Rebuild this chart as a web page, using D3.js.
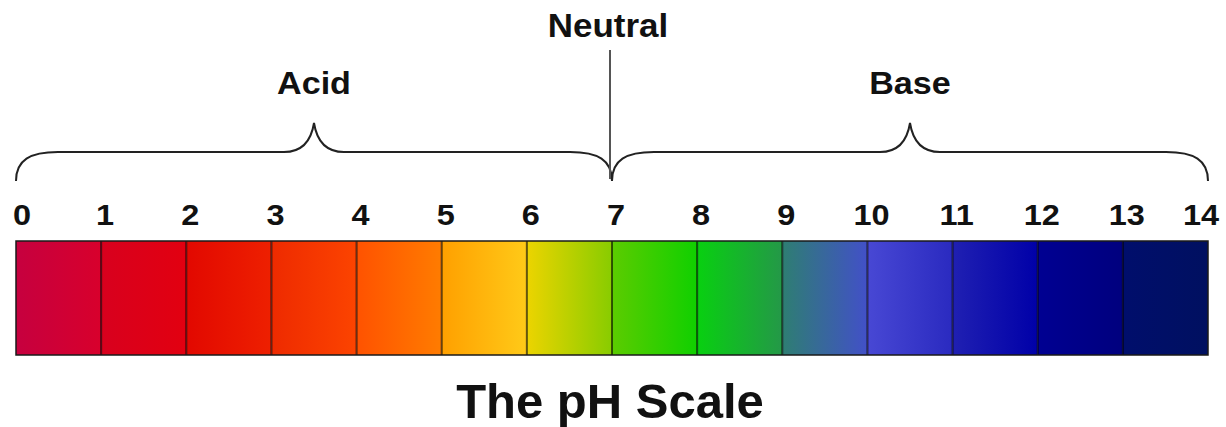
<!DOCTYPE html>
<html>
<head>
<meta charset="utf-8">
<script src="https://cdn.jsdelivr.net/npm/d3@7"></script>
<style>
  body { margin: 0; background: #fff; }
  text { font-family: "Liberation Sans", Arial, sans-serif; font-weight: bold; fill: #111; }
</style>
</head>
<body>
<div id="chart"></div>
<script>
// pH values at the cell boundaries
const phValues = d3.range(0, 15);
const tickLabels = phValues.map(String);

// Colour of each pH cell, as [left, right] of its gradient
const cellColors = [
    ["#c6003f", "#d8002c"],
    ["#d8001e", "#e20010"],
    ["#e20800", "#ee2000"],
    ["#ee2a00", "#fc4400"],
    ["#ff5200", "#ff7c00"],
    ["#ffa000", "#ffca18"],
    ["#ecd400", "#88cc00"],
    ["#5ccc00", "#10d000"],
    ["#08d010", "#249848"],
    ["#2e7e72", "#4250c8"],
    ["#4848d4", "#2a2ac0"],
    ["#2020b2", "#0000a8"],
    ["#000092", "#00007e"],
    ["#000e6c", "#001060"]
];

// Regions above the bar
const regions = [
    {name: "Acid", from: 0, to: 7},
    {name: "Base", from: 7, to: 14}
];
const neutralValue = 7;

const width = 1226, height = 427;

const svg = d3.select("#chart").append("svg")
    .attr("width", width)
    .attr("height", height);

const x = d3.scaleLinear()
    .domain([0, 14])
    .range([16, 1208]);

const barTop = 241, barBottom = 355;

// Gradients for each cell
const defs = svg.append("defs");
cellColors.forEach((c, i) => {
    const g = defs.append("linearGradient")
        .attr("id", "cell" + i)
        .attr("x1", "0%").attr("x2", "100%");
    g.append("stop").attr("offset", "0%").attr("stop-color", c[0]);
    g.append("stop").attr("offset", "100%").attr("stop-color", c[1]);
});

// Draw the cells
svg.selectAll(".cell")
    .data(cellColors)
    .enter()
    .append("rect")
    .attr("x", (d, i) => x(i))
    .attr("y", barTop)
    .attr("width", (d, i) => x(i + 1) - x(i))
    .attr("height", barBottom - barTop)
    .attr("fill", (d, i) => `url(#cell${i})`);

// Dividers between cells
svg.selectAll(".divider")
    .data(phValues.slice(1, -1))
    .enter()
    .append("line")
    .attr("x1", d => x(d))
    .attr("x2", d => x(d))
    .attr("y1", barTop)
    .attr("y2", barBottom)
    .attr("stroke", "#000")
    .attr("stroke-opacity", 0.6)
    .attr("stroke-width", 2);

// Outer border
svg.append("rect")
    .attr("x", x(0))
    .attr("y", barTop)
    .attr("width", x(14) - x(0))
    .attr("height", barBottom - barTop)
    .attr("fill", "none")
    .attr("stroke", "#1a1a1a")
    .attr("stroke-width", 1.5);

// Tick labels over the boundaries
svg.selectAll(".tick-label")
    .data(phValues)
    .enter()
    .append("text")
    .attr("transform", d => {
        const px = Math.max(22, Math.min(1201, x(d) + 4));
        return `translate(${px},225) scale(1.12,1)`;
    })
    .attr("text-anchor", "middle")
    .style("font-size", "29px")
    .text((d, i) => tickLabels[i]);

// Braces for acid and base
const braceY = 152, braceEnd = 181, tipY = 123;
function brace(x0, x1) {
    const mid = (x0 + x1) / 2;
    return `M${x0},${braceEnd} C${x0},${braceY + 8} ${x0 + 14},${braceY} ${x0 + 42},${braceY}` +
        ` L${mid - 30},${braceY} C${mid - 12},${braceY} ${mid - 3},${braceY - 10} ${mid},${tipY}` +
        ` C${mid + 3},${braceY - 10} ${mid + 12},${braceY} ${mid + 30},${braceY}` +
        ` L${x1 - 42},${braceY} C${x1 - 14},${braceY} ${x1},${braceY + 8} ${x1},${braceEnd}`;
}

regions.forEach(r => {
    svg.append("path")
        .attr("d", brace(x(r.from), x(r.to)))
        .attr("fill", "none")
        .attr("stroke", "#222")
        .attr("stroke-width", 2);

    svg.append("text")
        .attr("transform", `translate(${(x(r.from) + x(r.to)) / 2},94) scale(1.1,1)`)
        .attr("text-anchor", "middle")
        .style("font-size", "31px")
        .text(r.name);
});

// Neutral marker
svg.append("line")
    .attr("x1", x(neutralValue) - 2)
    .attr("x2", x(neutralValue) - 2)
    .attr("y1", 50)
    .attr("y2", braceEnd - 2)
    .attr("stroke", "#555")
    .attr("stroke-width", 2);

svg.append("text")
    .attr("transform", `translate(${x(neutralValue) - 4},37) scale(1.06,1)`)
    .attr("text-anchor", "middle")
    .style("font-size", "33px")
    .text("Neutral");

// Title
svg.append("text")
    .attr("x", 610)
    .attr("y", 418)
    .attr("text-anchor", "middle")
    .style("font-size", "49px")
    .text("The pH Scale");
</script>
</body>
</html>
